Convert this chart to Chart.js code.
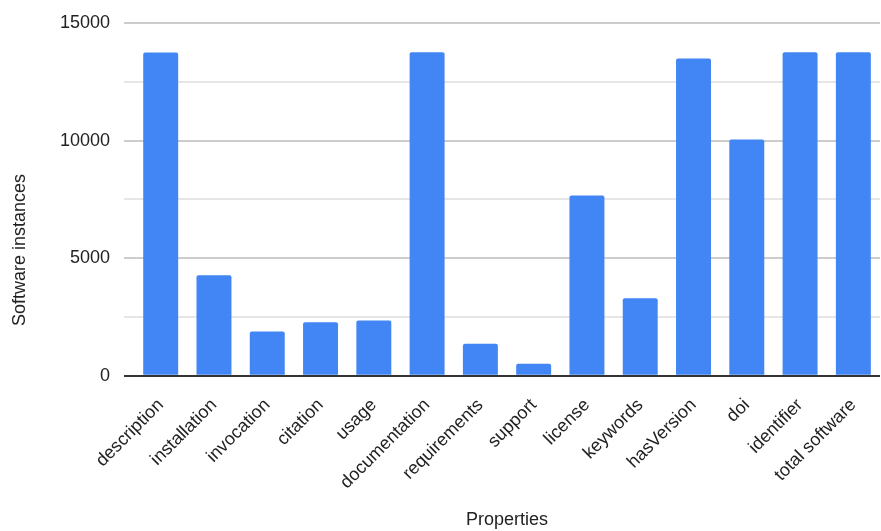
<!DOCTYPE html>
<html lang="en">
<head>
    <meta charset="UTF-8">
    <title>Software instances per property</title>
    <style>
        body {
            margin: 0;
            padding: 0;
            background: #fff;
        }
        #chart-container {
            width: 881px;
            height: 531px;
        }
    </style>
    <script src="https://cdn.jsdelivr.net/npm/chart.js"></script>
</head>
<body>
    <div id="chart-container">
        <canvas id="propertiesChart"></canvas>
    </div>

    <script>
        // values
        var properties = [
            'description', 'installation', 'invocation', 'citation', 'usage',
            'documentation', 'requirements', 'support', 'license', 'keywords',
            'hasVersion', 'doi', 'identifier', 'total software'
        ];
        var instances = [13750, 4270, 1880, 2270, 2340, 13760, 1360, 510, 7660, 3290, 13490, 10040, 13760, 13760];
        var yTicks = [0, 5000, 10000, 15000];

        var fontFamily = '"Liberation Sans", Arial, sans-serif';

        // y title sits lower than the plot centre in the original, so draw it by hand
        var yTitlePlugin = {
            id: 'yTitle',
            afterDraw: function(chart) {
                var ctx = chart.ctx;
                ctx.save();
                ctx.font = '18px ' + fontFamily;
                ctx.fillStyle = '#222';
                ctx.textAlign = 'center';
                ctx.textBaseline = 'middle';
                ctx.translate(20, 250);
                ctx.rotate(-Math.PI / 2);
                ctx.fillText('Software instances', 0, 0);
                ctx.restore();
            }
        };

        document.addEventListener('DOMContentLoaded', function() {
            var ctx = document.getElementById('propertiesChart').getContext('2d');
            new Chart(ctx, {
                type: 'bar',
                data: {
                    labels: properties,
                    datasets: [{
                        label: 'Software instances',
                        data: instances,
                        backgroundColor: '#4285f4',
                        borderRadius: 2,
                        borderSkipped: 'start',
                        barPercentage: 0.656,
                        categoryPercentage: 1
                    }]
                },
                options: {
                    responsive: true,
                    maintainAspectRatio: false,
                    animation: false,
                    layout: {
                        padding: { top: 22, left: 46, right: 1, bottom: 0 }
                    },
                    plugins: {
                        legend: { display: false },
                        tooltip: { enabled: false }
                    },
                    scales: {
                        x: {
                            grid: { display: false },
                            border: { display: false },
                            ticks: {
                                color: '#222',
                                font: { family: fontFamily, size: 18 },
                                minRotation: 45,
                                maxRotation: 45,
                                autoSkip: false,
                                padding: 11
                            },
                            title: {
                                display: true,
                                text: 'Properties',
                                color: '#222',
                                font: { family: fontFamily, size: 18 },
                                padding: { top: 5, bottom: 0 }
                            }
                        },
                        y: {
                            min: 0,
                            max: 15000,
                            border: { display: false },
                            grid: {
                                drawTicks: true,
                                tickLength: 10,
                                lineWidth: 2,
                                color: function(c) {
                                    if (c.tick.value === 0) return '#333';
                                    return yTicks.indexOf(c.tick.value) >= 0 ? '#cccccc' : '#e6e6e6';
                                }
                            },
                            ticks: {
                                stepSize: 2500,
                                padding: 14,
                                color: '#222',
                                font: { family: fontFamily, size: 18, lineHeight: 1 },
                                callback: function(value) {
                                    return yTicks.indexOf(value) >= 0 ? String(value) : '';
                                }
                            }
                        }
                    }
                },
                plugins: [yTitlePlugin]
            });
        });
    </script>
</body>
</html>
